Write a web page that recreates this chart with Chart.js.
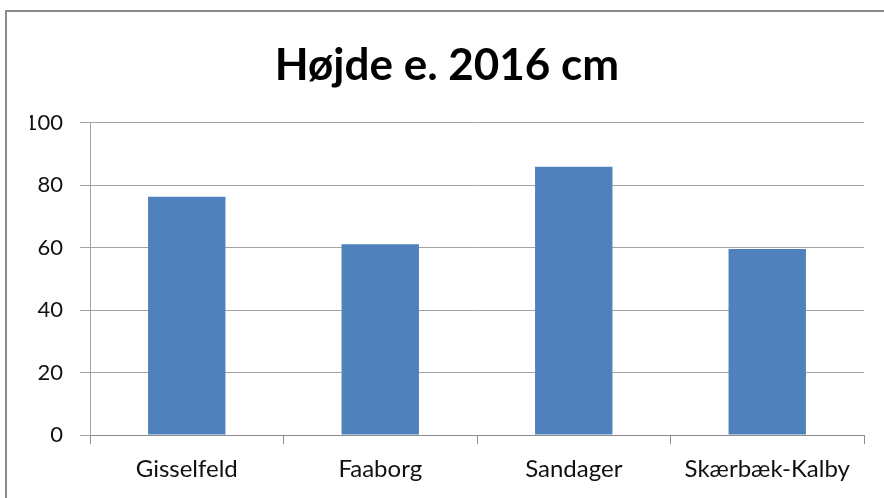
<!DOCTYPE html>
<html>
<head>
<meta charset="utf-8">
<script src="https://cdn.jsdelivr.net/npm/chart.js@4.4.0/dist/chart.umd.min.js"></script>
<style>
    html, body { margin: 0; padding: 0; background: #fff; overflow: hidden; }
    #wrap { position: relative; width: 884px; height: 498px; overflow: hidden; }
    #frame {
        position: absolute; left: 5px; top: 10px; width: 1000px; height: 700px;
        border-top: 2px solid #8a8a8a; border-left: 2px solid #8a8a8a;
    }
    #chart { position: absolute; left: 0; top: 0; }
</style>
</head>
<body>
<div id="wrap">
    <div id="frame"></div>
    <canvas id="chart" width="884" height="498"></canvas>
</div>
<script>
/* Højde e. 2016 - søjlediagram */

const titleText = 'Højde e. 2016 cm';
const categories = ['Gisselfeld', 'Faaborg', 'Sandager', 'Skærbæk-Kalby'];
const heights = [76.3, 61.1, 85.9, 59.6];
const yMin = 0;
const yMax = 100;
const yStep = 20;

const fontFamily = 'Lato, "Open Sans", sans-serif';
const gridColor = '#a3a3a3';
const axisColor = '#8c8c8c';

const ctx = document.getElementById('chart').getContext('2d');
const chart = new Chart(ctx, {
    type: 'bar',
    data: {
        labels: categories,
        datasets: [{
            label: titleText,
            data: heights,
            backgroundColor: '#4f81bd',
            borderWidth: 0,
            categoryPercentage: 1.0,
            barPercentage: 0.4,
        }]
    },
    options: {
        responsive: false,
        animation: false,
        // venstre padding flytter titlen lidt mod højre, som i Excel-diagrammet
        layout: { padding: { left: 30, right: 20, top: 0, bottom: 0 } },
        plugins: {
            legend: { display: false },
            tooltip: { enabled: false },
            title: {
                display: true,
                text: titleText,
                color: '#000',
                font: { family: fontFamily, size: 44, weight: 'bold' },
                padding: { top: 39, bottom: 31 }
            }
        },
        scales: {
            x: {
                grid: { offset: true, drawOnChartArea: false, drawTicks: true, tickLength: 9, color: axisColor },
                border: { color: axisColor, width: 1 },
                ticks: { color: '#111', font: { family: fontFamily, size: 24 }, padding: 11, maxRotation: 0 },
                afterFit: s => { s.height = 63; }
            },
            y: {
                min: yMin,
                max: yMax,
                ticks: { stepSize: yStep, color: '#111', font: { family: fontFamily, size: 22 }, padding: 17 },
                grid: { color: gridColor, tickLength: 10 },
                border: { color: gridColor, width: 1 },
                afterFit: s => { s.width = 60; }
            }
        }
    }
});
</script>
</body>
</html>
